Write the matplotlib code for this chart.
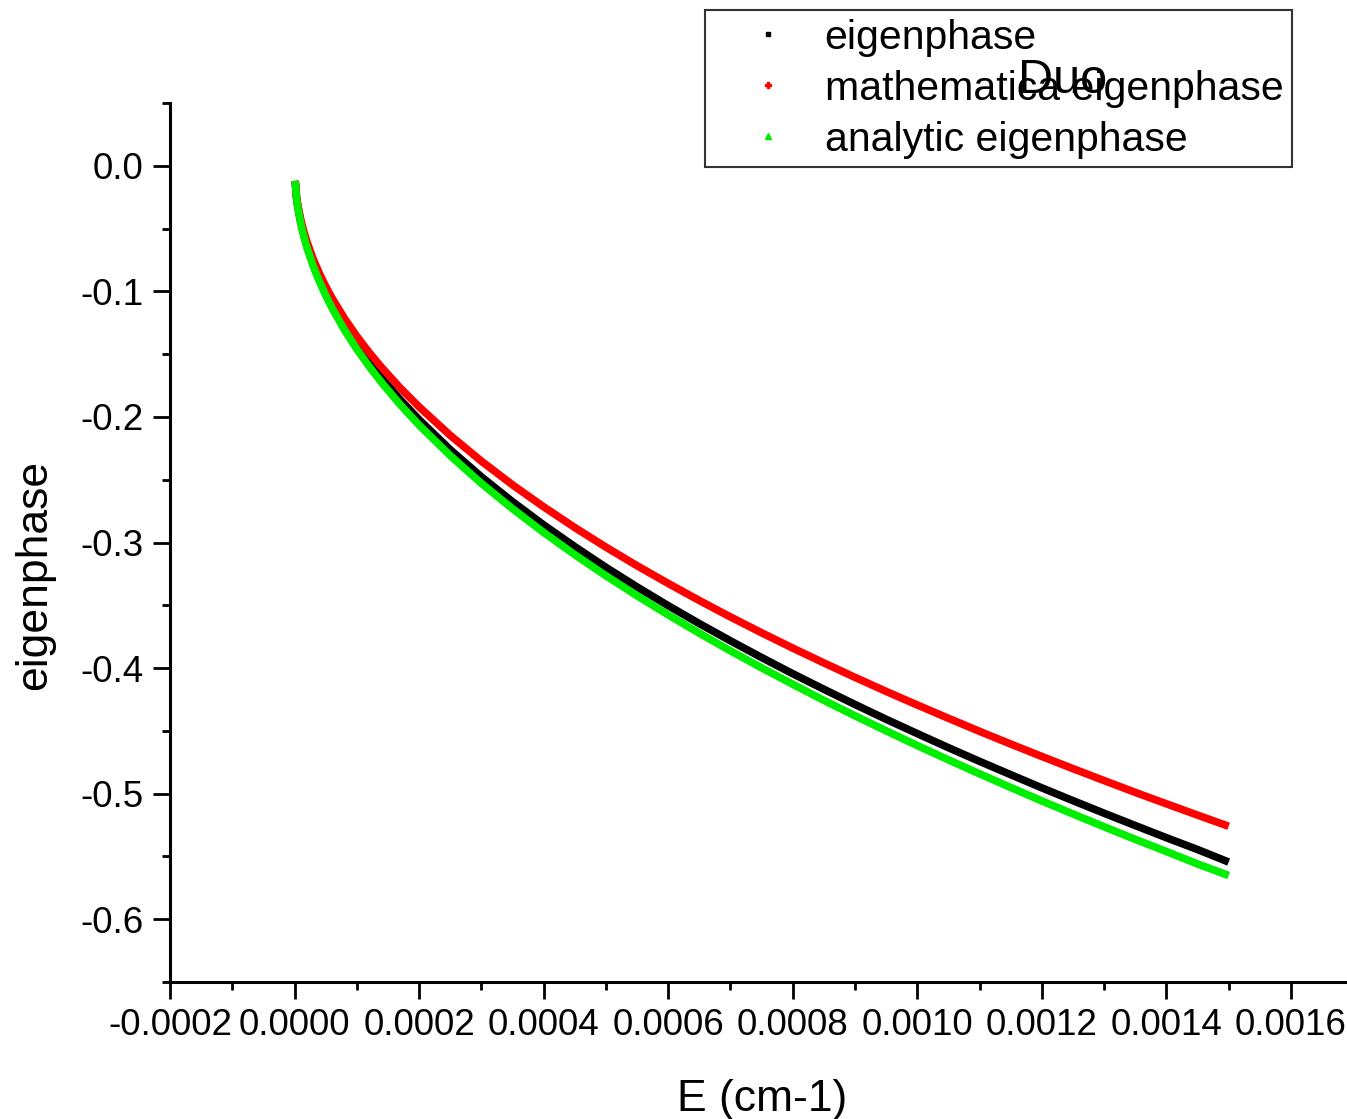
import matplotlib
matplotlib.use('Agg')

import matplotlib.pyplot as plt
from matplotlib.lines import Line2D
from matplotlib.ticker import MultipleLocator, FormatStrFormatter

plt.rcParams['font.family'] = ['Liberation Sans', 'DejaVu Sans']
plt.rcParams['axes.unicode_minus'] = False

# energie (cm-1)
E = [0.000001, 0.000003, 0.000005, 0.00001, 0.000015, 0.00002, 0.00003,
     0.00004, 0.00005, 0.00006, 0.00008, 0.0001, 0.00012, 0.00014,
     0.00017, 0.0002, 0.00025, 0.0003, 0.00035, 0.0004, 0.00045, 0.0005,
     0.00055, 0.0006, 0.00065, 0.0007, 0.00075, 0.0008, 0.00085, 0.0009,
     0.00095, 0.001, 0.00105, 0.0011, 0.00115, 0.0012, 0.00125, 0.0013,
     0.00135, 0.0014, 0.00145, 0.0015]

# eigenphase (code)
eig = [-0.0120, -0.0248, -0.0320, -0.0452, -0.0554, -0.0640, -0.0783,
       -0.0904, -0.1011, -0.1108, -0.1279, -0.1430, -0.1567, -0.1692,
       -0.1864, -0.2022, -0.2261, -0.2477, -0.2675, -0.2860, -0.3033, -0.3198,
       -0.3354, -0.3503, -0.3646, -0.3783, -0.3916, -0.4045, -0.4169, -0.4290,
       -0.4408, -0.4522, -0.4634, -0.4743, -0.4849, -0.4954, -0.5056, -0.5156,
       -0.5254, -0.5351, -0.5445, -0.5545]

# mathematica eigenphase
eig_math = [-0.0120, -0.0235, -0.0304, -0.0429, -0.0526, -0.0607, -0.0744,
            -0.0859, -0.0960, -0.1052, -0.1215, -0.1358, -0.1488, -0.1607,
            -0.1771, -0.1920, -0.2147, -0.2352, -0.2541, -0.2716, -0.2881, -0.3037,
            -0.3185, -0.3326, -0.3462, -0.3593, -0.3719, -0.3841, -0.3959, -0.4074,
            -0.4186, -0.4294, -0.4400, -0.4504, -0.4605, -0.4704, -0.4801, -0.4896,
            -0.4990, -0.5081, -0.5171, -0.5260]

# analytic eigenphase
eig_ana = [-0.0120, -0.0253, -0.0326, -0.0462, -0.0565, -0.0653, -0.0800,
           -0.0923, -0.1032, -0.1131, -0.1306, -0.1460, -0.1599, -0.1727,
           -0.1904, -0.2065, -0.2308, -0.2529, -0.2731, -0.2920, -0.3097, -0.3265,
           -0.3424, -0.3576, -0.3722, -0.3863, -0.3998, -0.4129, -0.4257, -0.4380,
           -0.4500, -0.4617, -0.4731, -0.4842, -0.4951, -0.5058, -0.5162, -0.5264,
           -0.5364, -0.5461, -0.5560, -0.5652]

labels = ['eigenphase', 'mathematica eigenphase', 'analytic eigenphase']

fig = plt.figure(figsize=(13.47, 11.19), dpi=100)
ax = fig.add_axes([170 / 1347, 1 - 982 / 1119, 1 - 170 / 1347, (982 - 103) / 1119])

style = dict(lw=5.5, solid_capstyle='butt', solid_joinstyle='round')
ax.plot(E, eig, color='black', **style)
ax.plot(E, eig_math, color='#ff0000', **style)
ax.plot(E, eig_ana, color='#00ee00', **style)

ax.set_xlim(-0.0002, 0.00169)
ax.set_ylim(-0.65, 0.05)

ax.xaxis.set_major_locator(MultipleLocator(0.0002))
ax.xaxis.set_minor_locator(MultipleLocator(0.0001))
ax.yaxis.set_major_locator(MultipleLocator(0.1))
ax.yaxis.set_minor_locator(MultipleLocator(0.05))
ax.xaxis.set_major_formatter(FormatStrFormatter('%.4f'))
ax.yaxis.set_major_formatter(FormatStrFormatter('%.1f'))

for s in ['top', 'right']:
    ax.spines[s].set_visible(False)
for s in ['left', 'bottom']:
    ax.spines[s].set_linewidth(2.2)

ax.tick_params(which='both', direction='out', width=2.0, labelsize=26.5)
ax.tick_params(which='major', length=12, pad=7)
ax.tick_params(which='minor', length=6)

ax.set_xlabel('E (cm-1)', fontsize=32)
ax.set_ylabel('eigenphase', fontsize=32)
ax.xaxis.set_label_coords(0.503, -0.110)
ax.yaxis.set_label_coords(-0.098, 0.463)

handles = [
    Line2D([], [], ls='none', marker='s', ms=3.5, color='black'),
    Line2D([], [], ls='none', marker='P', ms=4, color='#ff0000'),
    Line2D([], [], ls='none', marker='^', ms=4.5, color='#00ee00'),
]
leg = ax.legend(handles, labels, loc='upper left',
                bbox_to_anchor=(705 / 1347, 1 - 10 / 1119),
                bbox_transform=fig.transFigure, fontsize=29.5,
                frameon=True, fancybox=False, borderpad=0.21,
                handlelength=2.65, handletextpad=0.06, labelspacing=0.32,
                borderaxespad=0)
leg.get_frame().set_edgecolor('black')
leg.get_frame().set_linewidth(1.5)

fig.text(1018 / 1347, 1 - 93 / 1119, 'Duo', fontsize=35, ha='left', va='baseline')

fig.savefig('out.png', dpi=100)
